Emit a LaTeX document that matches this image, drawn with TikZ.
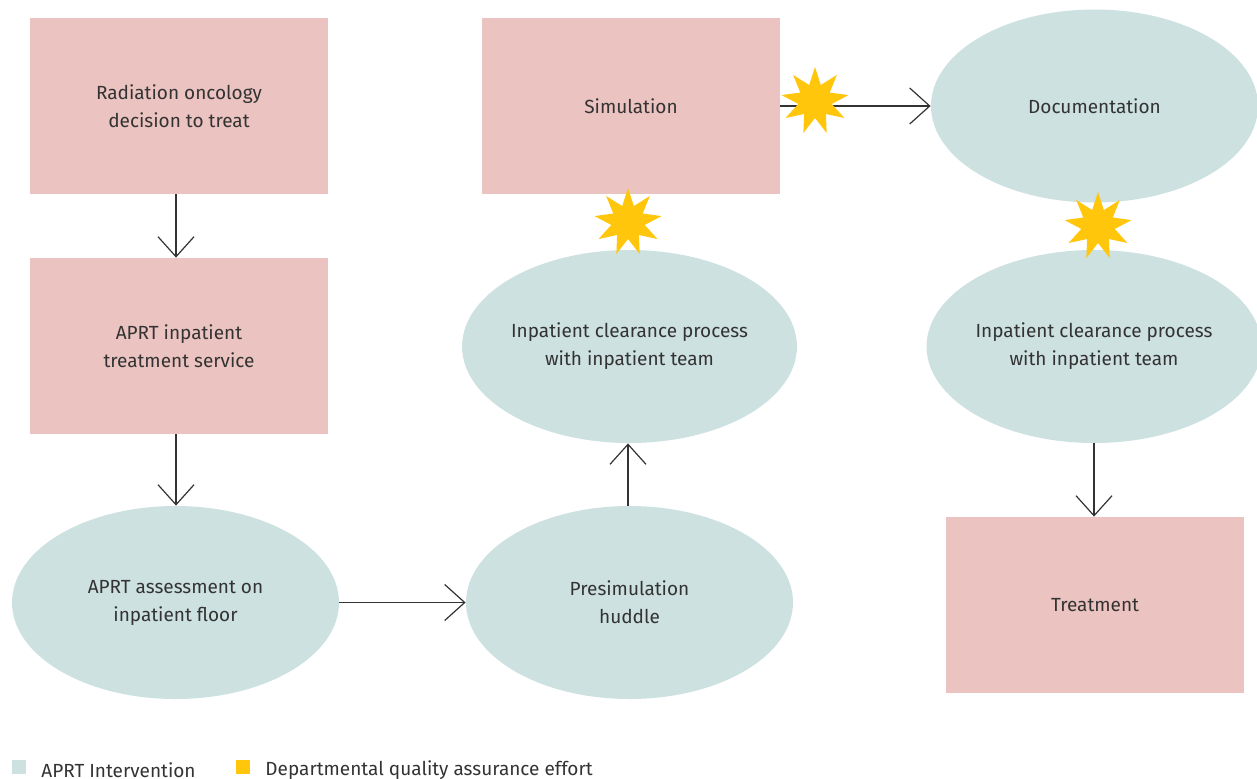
\documentclass[tikz,border=0pt]{standalone}
\usepackage{xcolor}
\usepackage{fontspec}
\setmainfont{Fira Sans}
\usepackage{tikz}
\usetikzlibrary{positioning,arrows.meta,shapes.geometric}

\definecolor{stepPink}{HTML}{EBC3C0}
\definecolor{aprtTeal}{HTML}{CDE1E0}
\definecolor{qaYellow}{HTML}{FFC60B}
\definecolor{inkGray}{HTML}{333333}

\begin{document}
\begin{tikzpicture}[
  x=0.5pt, y=-0.5pt,
  font=\fontsize{9.5}{14}\selectfont, text=inkGray,
  box/.style={rectangle, fill=stepPink, align=center, minimum width=149pt,
              minimum height=88pt, inner sep=0pt},
  apr/.style={ellipse, fill=aprtTeal, align=center, minimum width=163.5pt,
              minimum height=96.5pt, inner sep=0pt},
  qa/.style={star, star points=9, star point ratio=2, fill=qaYellow,
             minimum size=34pt, inner sep=0pt},
  key/.style={rectangle, minimum size=7pt, inner sep=0pt},
  flow/.style={-{Straight Barb[length=10pt, width=18pt]}, draw=inkGray, line width=0.6pt}
]
\useasboundingbox (0,0) rectangle (1257,778);

% Left column
\node[box] (decide) at (179,106) {Radiation oncology\\decision to treat};
\node[box] (service) at (179,346) {APRT inpatient\\treatment service};
\node[apr] (assess) at (175.5,602.5) {APRT assessment on\\inpatient floor};

% Middle column
\node[apr] (huddle) at (629.5,602.5) {Presimulation\\huddle};
\node[apr] (clearA) at (629.5,346.5) {Inpatient clearance process\\with inpatient team};
\node[box] (sim) at (631,106) {Simulation};

% Right column
\node[apr] (doc) at (1094.5,106) {Documentation};
\node[apr] (clearB) at (1094,346.5) {Inpatient clearance process\\with inpatient team};
\node[box] (treat) at (1095,605) {Treatment};

% edges
\draw[flow] (decide.south -| 176,0) -- (service.north -| 176,0);
\draw[flow] (service.south -| 176,0) -- (assess.north -| 176,0);
\draw[flow] (assess.east) -- (huddle.west);
\draw[flow] (huddle.north -| 628,0) -- (clearA.south -| 628,0);
\draw[flow] (sim.east) -- (doc.west);
\draw[flow] (clearB.south) -- (treat.north -| clearB.south);

% quality assurance stars
\node[qa] (qaSim) at (815,101) {};
\node[qa] (qaMid) at (628,222) {};
\node[qa] (qaDoc) at (1098,226) {};

% legend
\node[key, fill=aprtTeal] (keyA) at (19,767) {};
\node[anchor=west, right=4pt of keyA, yshift=-1.5pt] (keyAtxt) {APRT Intervention};
\node[key, fill=qaYellow] (keyB) at (243,767) {};
\node[anchor=west, right=4pt of keyB, yshift=-1.5pt] (keyBtxt) {Departmental quality assurance effort};
\end{tikzpicture}
\end{document}
